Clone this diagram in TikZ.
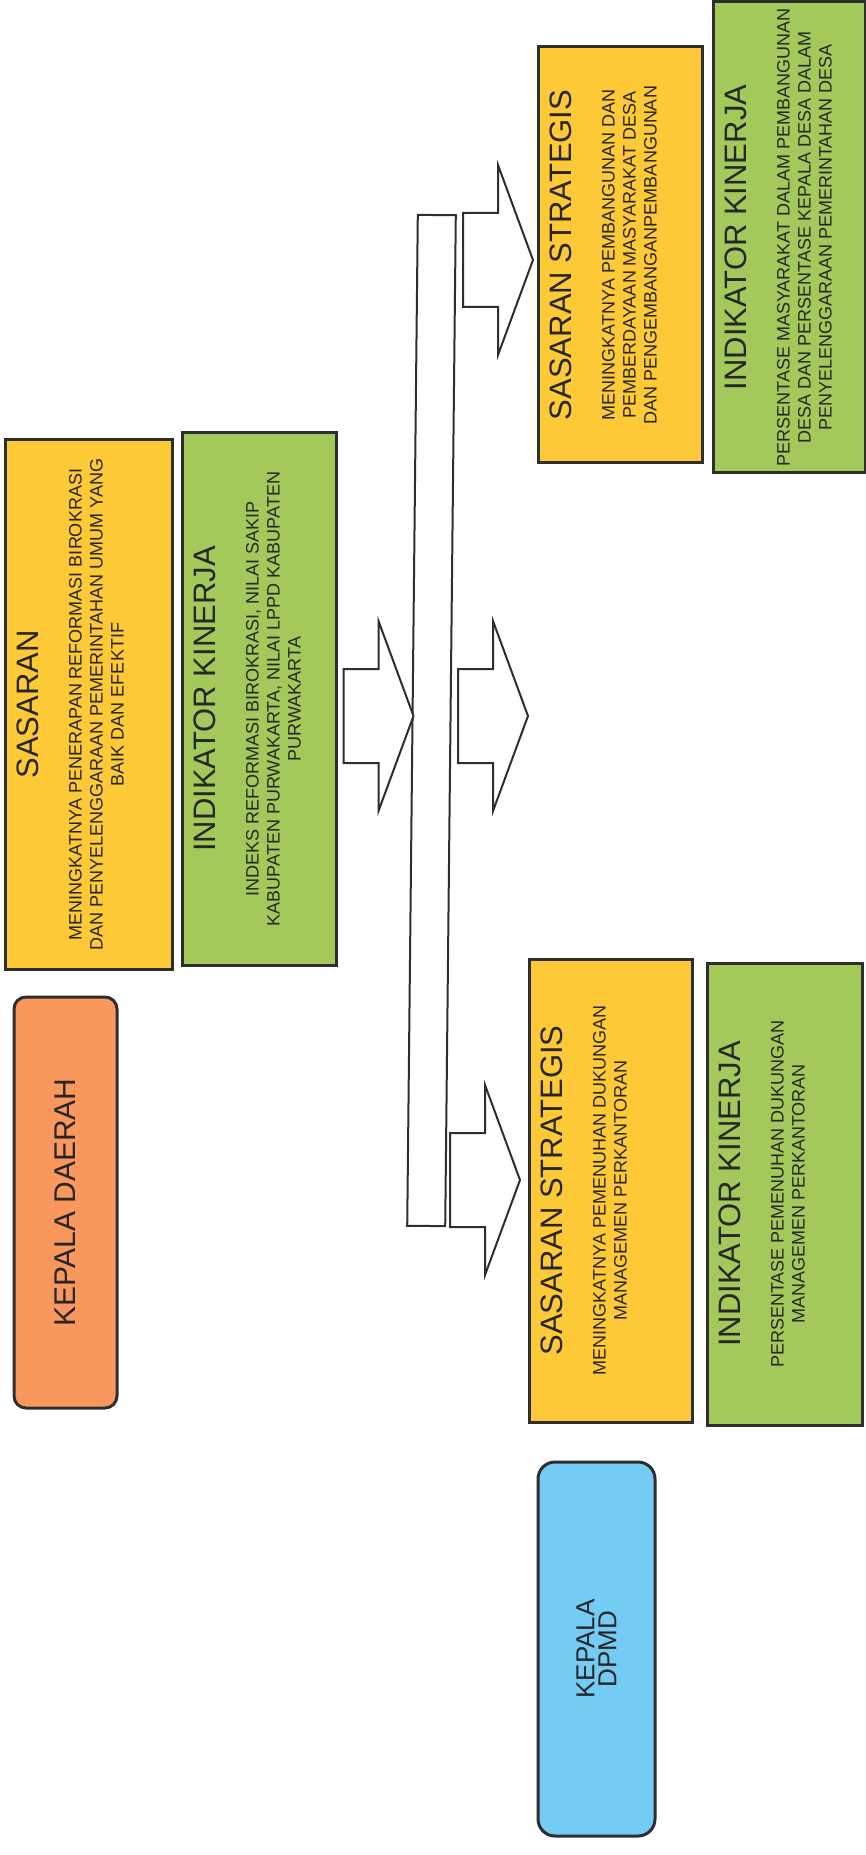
\documentclass[tikz,border=0pt]{standalone}
\usepackage{fontspec}
\setmainfont{Liberation Sans}
\usetikzlibrary{calc}
\definecolor{goalyellow}{HTML}{FDC936}
\definecolor{kpigreen}{HTML}{A2C95A}
\definecolor{headorange}{HTML}{F9975C}
\definecolor{headblue}{HTML}{74CBF4}
\definecolor{boxline}{HTML}{2E2E2E}
\definecolor{inkgray}{HTML}{262626}
\newcommand{\titlefont}{\fontsize{15.5}{17}\selectfont}
\newcommand{\bodyfont}{\fontsize{9}{10.5}\selectfont}
\newcommand{\boxtext}[4]{\parbox[c][#1][t]{#2}{\centering\vspace*{6pt}{\titlefont #3\par}\vspace{11pt}{\bodyfont #4\par}}}
\tikzset{
    goalbox/.style = {draw=boxline, line width=1.5pt, fill=goalyellow, rectangle, inner sep=0pt, rotate=90, text=inkgray},
    kpibox/.style = {goalbox, fill=kpigreen},
    headbox/.style = {draw=boxline, line width=1.5pt, rectangle, rounded corners=6pt, inner sep=0pt,
      rotate=90, align=center, text=inkgray},
    barbox/.style = {draw=boxline, line width=1pt, fill=white, rectangle, inner sep=0pt,
      minimum width=505.5pt, minimum height=19pt},
    arrowline/.style = {draw=boxline, line width=1pt, fill=white, line join=miter}
}
\begin{document}
\begin{tikzpicture}[x=0.5pt, y=-0.5pt]
    \useasboundingbox (0,0) rectangle (866,1855);

    \node [goalbox, name=sasaran] at (88.5,704.5) {\boxtext{83.5pt}{264.5pt}{SASARAN}{MENINGKATNYA PENERAPAN REFORMASI BIROKRASI\\ DAN PENYELENGGARAAN PEMERINTAHAN UMUM YANG\\ BAIK DAN EFEKTIF}};
    \node [kpibox, name=indikator] at (259,699) {\boxtext{77pt}{266pt}{INDIKATOR KINERJA}{INDEKS REFORMASI BIROKRASI, NILAI SAKIP\\ KABUPATEN PURWAKARTA, NILAI LPPD KABUPATEN\\ PURWAKARTA}};

    \node [headbox, name=kepalaDaerah, fill=headorange, minimum width=205.5pt, minimum height=51.5pt,
      font=\fontsize{15}{17}\selectfont] at (65.5,1202.5) {KEPALA DAERAH};
    \node [headbox, name=kepalaDpmd, fill=headblue, rounded corners=8.5pt, minimum width=187pt, minimum height=58.5pt,
      font=\fontsize{13}{11}\selectfont] at (596.5,1649) {KEPALA\\DPMD};

    \node [goalbox, name=strategisA] at (620,255) {\boxtext{82pt}{208pt}{SASARAN STRATEGIS}{MENINGKATNYA PEMBANGUNAN DAN\\ PEMBERDAYAAN MASYARAKAT DESA\\ DAN PENGEMBANGANPEMBANGUNAN}};
    \node [kpibox, name=kinerjaA] at (789,237.5) {\boxtext{76pt}{235.5pt}{INDIKATOR KINERJA}{PERSENTASE MASYARAKAT DALAM PEMBANGUNAN\\ DESA DAN PERSENTASE KEPALA DESA DALAM\\ PENYELENGGARAAN PEMERINTAHAN DESA}};
    \node [goalbox, name=strategisB] at (610.5,1190.5) {\boxtext{81.5pt}{231.5pt}{SASARAN STRATEGIS}{MENINGKATNYA PEMENUHAN DUKUNGAN\\ MANAGEMEN PERKANTORAN}};
    \node [kpibox, name=kinerjaB] at (784.5,1194) {\boxtext{77.5pt}{231pt}{INDIKATOR KINERJA}{PERSENTASE PEMENUHAN DUKUNGAN\\ MANAGEMEN PERKANTORAN}};

    \node [barbox, name=bar, rotate=89.4] at (431.5,720.5) {};
    \coordinate (inArrow) at ($(indikator.south)+(6,17)$);
    \coordinate (outA) at (463,260);
    \coordinate (outB) at (458,716);
    \coordinate (outC) at (450,1180);
    \foreach \p in {inArrow, outA, outB, outC}
        \draw [arrowline] (\p) ++(0,-47) -- ++(35,0) -- ++(0,-48) -- ++(35,95) -- ++(-35,95) -- ++(0,-48) -- ++(-35,0) -- cycle;
\end{tikzpicture}
\end{document}
